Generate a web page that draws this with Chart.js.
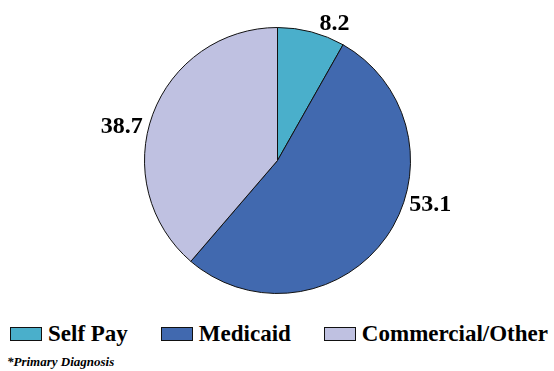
<!DOCTYPE html>
<html>
<head>
<meta charset="utf-8">
<script src="https://cdn.jsdelivr.net/npm/chart.js@4/dist/chart.umd.min.js"></script>
<style>
  html, body { margin: 0; padding: 0; background: #fff; }
  #page { position: relative; width: 554px; height: 371px; overflow: hidden; }
  #wrap { position: absolute; left: 0; top: 0; width: 554px; height: 300px; }
  #legend {
    position: absolute; left: 10px; top: 320px; height: 28px;
    display: flex; align-items: center;
    font: bold 23px/28px "Liberation Serif", serif; color: #000;
  }
  #legend .item { display: flex; align-items: center; margin-right: 33px; white-space: nowrap; }
  #legend .item:last-child { margin-right: 0; }
  #legend .swatch { width: 30px; height: 12px; border: 1px solid #111; margin-right: 6px; }
  #note {
    position: absolute; left: 7px; top: 355px;
    font: italic bold 13px/13px "Liberation Serif", serif; color: #000;
  }
</style>
</head>
<body>
<div id="page">
  <div id="wrap"><canvas id="payerChart"></canvas></div>
  <div id="legend"></div>
  <div id="note"></div>
</div>
<script>
const categories = ["Self Pay", "Medicaid", "Commercial/Other"];
const shares = [8.2, 53.1, 38.7];
const sliceColors = ["#4aafcb", "#4169af", "#bfc1e1"];
const footnote = "*Primary Diagnosis";

// nudge for each value label, from the middle of the slice's outer edge
const labelShift = [[23, -2], [44, -26], [-31, 19]];

// value labels sitting just outside the pie
const sliceLabels = {
  id: "sliceLabels",
  afterDatasetsDraw(chart) {
    const ctx = chart.ctx;
    const meta = chart.getDatasetMeta(0);
    ctx.save();
    ctx.font = "bold 24px 'Liberation Serif'";
    ctx.fillStyle = "#000";
    ctx.textAlign = "center";
    ctx.textBaseline = "alphabetic";
    meta.data.forEach((arc, i) => {
      const p = arc.getProps(["x", "y", "startAngle", "endAngle", "outerRadius"], true);
      const mid = (p.startAngle + p.endAngle) / 2;
      const x = p.x + Math.cos(mid) * p.outerRadius + labelShift[i][0];
      const y = p.y + Math.sin(mid) * p.outerRadius + labelShift[i][1];
      ctx.fillText(shares[i].toFixed(1), x, y);
    });
    ctx.restore();
  },
};

const ctx = document.getElementById("payerChart").getContext("2d");
const payerChart = new Chart(ctx, {
  type: "pie",
  data: {
    labels: categories,
    datasets: [
      {
        data: shares,
        backgroundColor: sliceColors,
        borderColor: "#111",
        borderWidth: 1,
      },
    ],
  },
  options: {
    responsive: true,
    maintainAspectRatio: false,
    animation: false,
    layout: {
      padding: { top: 27, left: 7, right: 6, bottom: 6 },
    },
    plugins: {
      tooltip: { enabled: false },
      legend: { display: false },
    },
  },
  plugins: [sliceLabels],
});

// legend built from the chart's own legend items
const legendBox = document.getElementById("legend");
payerChart.options.plugins.legend.labels.generateLabels(payerChart).forEach((item) => {
  const row = document.createElement("div");
  row.className = "item";
  const swatch = document.createElement("span");
  swatch.className = "swatch";
  swatch.style.background = item.fillStyle;
  const text = document.createElement("span");
  text.textContent = item.text;
  row.appendChild(swatch);
  row.appendChild(text);
  legendBox.appendChild(row);
});

document.getElementById("note").textContent = footnote;
</script>
</body>
</html>
